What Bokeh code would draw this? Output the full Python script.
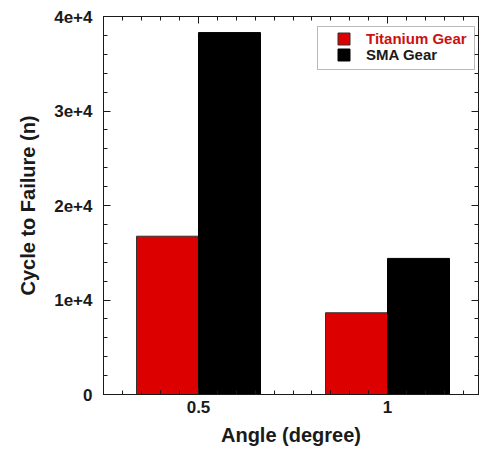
from bokeh.plotting import figure
from bokeh.models import (ColumnDataSource, Range1d, FixedTicker, LinearAxis,
                          Legend, LegendItem, CustomJSTickFormatter, BoxAnnotation)
from bokeh.transform import dodge
from bokeh.embed import file_html
from bokeh.resources import INLINE

# ---- data ----
angles = [0.5, 1.0]
angle_labels = ["0.5", "1"]
titanium = [16750, 8650]
sma = [38300, 14400]
y_ticks = [0, 10000, 20000, 30000, 40000]
y_tick_labels = ["0", "1e+4", "2e+4", "3e+4", "4e+4"]
series_names = ["Titanium Gear", "SMA Gear"]

BAR_W = 0.164
RED = "#dd0000"
FONT = "Liberation Sans"
INK = "#1a1a1a"

src = ColumnDataSource(dict(angle=angles, titanium=titanium, sma=sma))

p = figure(width=481, height=453, output_backend="svg", toolbar_location=None,
           x_range=Range1d(0.2487, 1.2407), y_range=Range1d(0, 40000),
           min_border_left=103, min_border_top=16, min_border_right=3,
           min_border_bottom=59, x_axis_type=None, y_axis_type=None)
p.grid.visible = False
p.outline_line_color = INK
p.outline_line_width = 1
p.background_fill_color = "white"
p.border_fill_color = "white"

r_ti = p.vbar(x=dodge("angle", -BAR_W / 2, range=p.x_range), top="titanium",
              width=BAR_W, source=src, fill_color=RED, line_color="#333333",
              line_width=1)
r_sma = p.vbar(x=dodge("angle", BAR_W / 2, range=p.x_range), top="sma",
               width=BAR_W, source=src, fill_color="black", line_color="black",
               line_width=1)

x_minor = [round(0.25 + 0.05 * i, 2) for i in range(20)]
y_minor = list(range(0, 40001, 2000))

def style_axis(ax):
    ax.axis_line_color = INK
    ax.axis_line_width = 1
    ax.major_tick_in = 7
    ax.major_tick_out = 0
    ax.minor_tick_in = 4
    ax.minor_tick_out = 0
    ax.major_tick_line_color = INK
    ax.minor_tick_line_color = INK
    ax.major_label_text_font = FONT
    ax.major_label_text_font_style = "bold"
    ax.major_label_text_color = INK
    ax.major_label_text_font_size = "17px"
    ax.axis_label_text_font = FONT
    ax.axis_label_text_font_style = "bold"
    ax.axis_label_text_color = INK
    ax.axis_label_text_font_size = "20px"

xb = LinearAxis(ticker=FixedTicker(ticks=angles, minor_ticks=x_minor),
                axis_label="Angle (degree)")
xb.major_label_overrides = {a: l for a, l in zip(angles, angle_labels)}
style_axis(xb)
xb.major_label_standoff = 6
xb.axis_label_standoff = 8
p.add_layout(xb, "below")

yl = LinearAxis(ticker=FixedTicker(ticks=y_ticks, minor_ticks=y_minor),
                axis_label="Cycle to Failure (n)")
yl.major_label_overrides = {t: l for t, l in zip(y_ticks, y_tick_labels)}
style_axis(yl)
yl.major_label_standoff = 11
yl.axis_label_standoff = 12
p.add_layout(yl, "left")

blank = CustomJSTickFormatter(code="return ''")
xt = LinearAxis(ticker=FixedTicker(ticks=angles, minor_ticks=x_minor), formatter=blank)
style_axis(xt)
xt.major_label_standoff = 0
xt.major_label_text_font_size = "1px"
p.add_layout(xt, "above")

yr = LinearAxis(ticker=FixedTicker(ticks=y_ticks, minor_ticks=y_minor), formatter=blank)
style_axis(yr)
yr.major_label_standoff = 0
yr.major_label_text_font_size = "1px"
p.add_layout(yr, "right")

# legend frame (screen units, relative to the plot frame)
box = BoxAnnotation(left=214, right=371, bottom=325, top=368,
                    left_units="screen", right_units="screen",
                    bottom_units="screen", top_units="screen",
                    fill_color="white", fill_alpha=1.0,
                    line_color=INK, line_width=1)
p.add_layout(box)

def make_legend(item, color, loc):
    return Legend(items=[item], location=loc, margin=0, padding=0,
                  spacing=0, glyph_width=15, glyph_height=15, label_height=16,
                  label_width=100, label_standoff=15,
                  label_text_font=FONT, label_text_font_style="bold",
                  label_text_font_size="15px", label_text_color=color,
                  label_text_baseline="middle",
                  border_line_color=None, background_fill_alpha=0.0)

leg_t = make_legend(LegendItem(label=series_names[0], renderers=[r_ti]),
                    "#cc1010", (233, 347))
leg_s = make_legend(LegendItem(label=series_names[1], renderers=[r_sma]),
                    INK, (233, 331))
p.add_layout(leg_t)
p.add_layout(leg_s)

open("out.html", "w").write(file_html(p, INLINE))
